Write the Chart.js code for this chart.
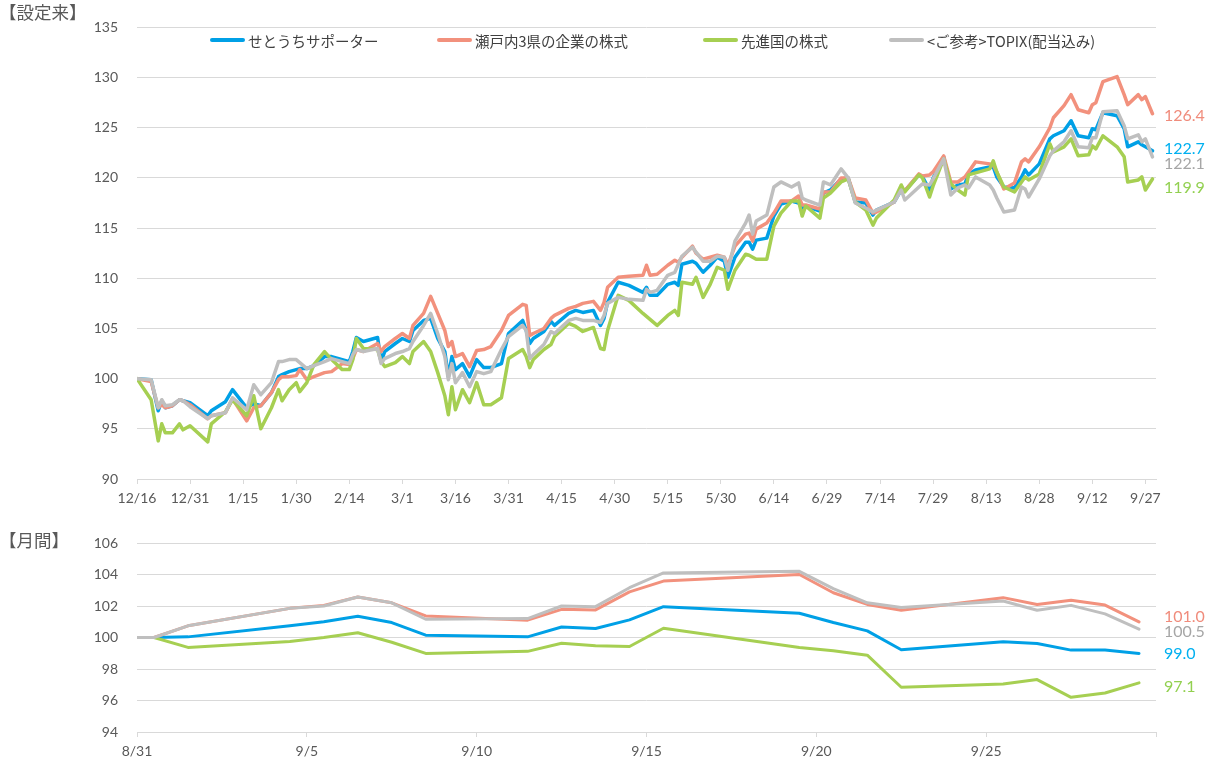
<!DOCTYPE html>
<html><head><meta charset="utf-8">
<script src="https://cdn.jsdelivr.net/npm/chart.js@4.4.1/dist/chart.umd.min.js"></script>
<style>
html,body{margin:0;padding:0;background:#fff;width:1206px;height:760px;overflow:hidden;}
#wrap{position:relative;width:1206px;height:760px;font-family:"Noto Sans CJK JP",sans-serif;color:#595959;}
canvas{position:absolute;left:0;}
#c1{top:0;} #c2{top:510px;}
.ttl{position:absolute;left:-1px;font-size:17.5px;line-height:20px;color:#595959;}
.leg{position:absolute;top:31px;height:18px;display:flex;align-items:center;font-size:14.5px;color:#404040;white-space:nowrap;}
.leg i{display:inline-block;width:35px;height:4px;border-radius:2px;margin-right:3px;}
</style></head><body>
<div id="wrap">
<canvas id="c1" width="1206" height="515"></canvas>
<canvas id="c2" width="1206" height="250"></canvas>
<div class="ttl" style="top:2px">【設定来】</div>
<div class="ttl" style="top:530px">【月間】</div>
<div id="legend"></div>
</div>
<script>
// ---------- DATA ----------
const seriesNames = ["せとうちサポーター","瀬戸内3県の企業の株式","先進国の株式","<ご参考>TOPIX(配当込み)"];

const topDates = ["12/16","12/20","12/22","12/23","12/24","12/26","12/28","12/29","12/31",
"1/5","1/6","1/10","1/12","1/16","1/18","1/20","1/23","1/25","1/26","1/28","1/30","1/31",
"2/2","2/4","2/7","2/9","2/12","2/14","2/15","2/16","2/18","2/22","2/23","2/24","2/27",
"3/1","3/3","3/4","3/7","3/9","3/11","3/13","3/14","3/15","3/16","3/18","3/20","3/22","3/24","3/26","3/29","3/31",
"4/4","4/5","4/6","4/7","4/10","4/12","4/13","4/17","4/19","4/21","4/24","4/26","4/27","4/28",
"5/1","5/4","5/8","5/9","5/10","5/12","5/15","5/17","5/18","5/19","5/22","5/23","5/25","5/27","5/29","5/31",
"6/1","6/3","6/6","6/7","6/8","6/9","6/12","6/14","6/16","6/19","6/21","6/22","6/23","6/27","6/28","6/30",
"7/3","7/5","7/7","7/10","7/12","7/13","7/18","7/20","7/21","7/25","7/26","7/28","7/29",
"8/1","8/3","8/5","8/7","8/8","8/10","8/14","8/15","8/16","8/18","8/21","8/23","8/24","8/25","8/28","8/31",
"9/1","9/4","9/6","9/8","9/11","9/12","9/13","9/15","9/19","9/21","9/22","9/25","9/26","9/27","9/29"];

const topSetouchi = [100,99.9,96.8,97.8,97.1,97.3,97.9,97.8,97.6,
96.3,96.8,97.7,98.9,97.1,97.5,97.3,98.6,100.2,100.4,100.7,100.9,101.0,
101.0,101.3,102.2,102.2,101.9,101.7,102.7,104.1,103.7,104.1,101.7,102.7,103.5,
104.0,103.7,104.8,105.8,106.0,104.0,102.7,100.2,102.2,100.9,101.5,100.2,101.9,101.1,101.1,101.5,104.5,
105.8,104.8,103.5,104.0,104.7,105.7,105.3,106.5,106.8,106.6,106.8,105.3,106.0,107.6,
109.6,109.3,108.6,109.1,108.3,108.3,109.4,109.6,109.3,111.4,111.7,111.5,110.6,111.3,112.1,111.7,
110.1,112.1,113.6,113.6,112.9,113.8,114.0,116.2,117.4,117.7,117.5,117.0,117.2,116.7,118.5,118.8,
119.9,120.0,117.6,117.5,116.3,116.8,117.6,118.8,118.7,120.3,120.1,118.8,120.0,
122.1,118.9,119.3,119.4,120.4,120.8,121.1,121.1,120.1,119.1,119.0,120.1,120.8,120.3,121.4,123.9,
124.2,124.7,125.7,124.2,124.0,124.9,124.8,126.5,126.2,124.9,123.1,123.6,123.3,123.1,122.7];

const topSetouchi3 = [100,99.7,97.1,97.4,97.1,97.3,97.9,97.8,97.4,
96.0,96.3,96.6,98.0,95.8,97.1,97.3,98.6,99.9,100.2,100.2,100.3,100.9,
99.9,100.2,100.6,100.7,101.5,101.4,102.0,102.9,102.7,103.5,102.7,103.2,104.0,
104.5,104.0,105.3,106.5,108.2,106.5,104.8,103.2,103.7,102.2,102.5,101.2,102.8,102.9,103.2,104.8,106.3,
107.4,107.3,104.3,104.5,105.0,106.0,106.3,107.0,107.2,107.5,107.7,106.8,107.6,109.1,
110.1,110.2,110.3,111.3,110.3,110.4,111.3,111.8,111.6,112.1,113.2,112.5,111.9,112.1,112.3,112.1,
111.3,113.2,114.4,114.5,113.7,114.9,115.5,116.5,117.7,117.7,118.2,117.3,117.3,116.9,118.6,118.6,
120.0,120.0,118.0,117.8,116.5,116.6,117.6,119.0,118.7,120.4,120.2,120.3,120.6,
122.2,119.6,119.6,120.1,120.6,121.6,121.4,121.3,120.6,118.9,119.5,121.6,121.9,121.6,123.1,125.0,
126.0,127.2,128.3,126.8,126.5,127.3,127.5,129.6,130.1,128.3,127.3,128.3,127.8,128.1,126.4];

const topDeveloped = [100,97.9,93.8,95.5,94.6,94.6,95.5,94.9,95.3,
93.7,95.5,96.7,97.9,96.3,98.3,95.0,97.1,98.9,97.8,98.9,99.6,98.7,
99.6,101.4,102.7,101.9,100.9,100.9,101.9,104.0,103.0,102.9,101.7,101.2,101.6,
102.2,101.5,102.7,103.7,102.7,100.6,98.3,96.4,99.2,96.9,98.9,97.6,99.6,97.4,97.4,98.1,102.0,
102.9,102.2,101.1,101.9,102.9,103.4,104.2,105.5,105.2,104.7,105.1,103.0,102.9,104.8,
108.3,107.8,106.5,106.2,105.9,105.3,106.3,106.8,106.3,109.6,109.4,110.1,108.1,109.4,111.1,110.8,
108.9,110.8,112.4,112.3,112.1,111.9,111.9,115.2,116.5,117.7,117.7,116.2,117.2,116.0,118.0,118.5,
119.6,119.9,117.6,116.8,115.3,116.0,117.8,119.3,118.6,120.3,120.0,118.1,119.2,
121.9,119.4,118.8,118.3,120.3,120.5,120.9,121.7,120.6,119.1,118.6,119.6,120.1,119.8,120.4,123.4,
122.6,123.1,123.9,122.2,122.3,123.2,122.9,124.2,123.1,122.1,119.6,119.8,120.1,118.8,119.9];

const topTopix = [100,99.9,97.1,97.9,97.3,97.4,97.9,97.8,97.2,
96.0,96.3,96.6,98.1,96.9,99.4,98.4,99.6,101.7,101.7,101.9,101.9,101.6,
101.0,101.3,101.7,102.0,101.7,101.5,102.4,102.9,102.7,103.0,101.5,102.0,102.5,
102.7,103.0,103.7,105.3,106.5,104.5,102.2,99.9,101.5,99.6,100.6,99.2,100.7,100.5,100.7,102.9,104.2,
105.3,104.8,102.0,102.4,103.4,104.7,104.5,105.8,106.0,105.8,105.8,105.6,106.3,107.5,
108.1,107.9,107.8,108.9,108.6,108.8,110.3,110.6,111.4,112.2,113.1,112.6,111.7,111.7,112.2,112.1,
110.8,113.7,115.5,116.3,114.4,115.7,116.3,119.1,119.6,119.1,119.5,118.0,117.8,117.3,119.6,119.3,
120.9,120.0,117.5,117.0,116.6,116.8,117.6,118.8,117.8,119.1,119.4,119.3,119.9,
121.9,118.3,119.0,119.3,119.0,120.1,119.3,118.8,118.0,116.6,116.8,119.1,118.9,118.1,119.9,122.2,
122.7,123.6,124.7,123.1,123.0,124.0,124.0,126.6,126.7,125.2,123.9,124.3,123.6,123.9,122.1];

const topTickLabels = ["12/16","12/31","1/15","1/30","2/14","3/1","3/16","3/31","4/15","4/30","5/15","5/30","6/14","6/29","7/14","7/29","8/13","8/28","9/12","9/27"];
const topRange = ["12/16","9/30"];

const monthDates = ["8/30","8/31","9/1","9/4","9/5","9/6","9/7","9/8","9/11","9/12","9/13","9/14","9/15","9/19","9/20","9/21","9/22","9/25","9/26","9/27","9/28","9/29"];
const monthSetouchi  = [100,100,100.04,100.74,101.0,101.35,100.95,100.15,100.04,100.67,100.57,101.12,101.96,101.54,100.95,100.42,99.22,99.73,99.62,99.2,99.2,98.99];
const monthSetouchi3 = [100,100,100.74,101.85,102.04,102.57,102.2,101.37,101.1,101.79,101.75,102.9,103.58,104.0,102.84,102.1,101.73,102.53,102.1,102.36,102.06,100.99];
const monthDeveloped = [100,100,99.37,99.75,100.0,100.3,99.7,98.99,99.12,99.64,99.47,99.43,100.59,99.37,99.16,98.88,96.84,97.05,97.33,96.2,96.48,97.12];
const monthTopix     = [100,100,100.74,101.85,102.0,102.57,102.2,101.16,101.2,102.0,101.96,103.16,104.1,104.2,103.1,102.2,101.9,102.32,101.73,102.04,101.5,100.53];
const monthTickLabels = ["8/31","9/5","9/10","9/15","9/20","9/25"];
const monthRange = ["8/31","9/30"];

// ---------- STYLE ----------
const COLORS = ['#00A0E6','#F2917D','#A6CF52','#BFBFBF'];
const LABEL_COLORS = ['#00B0F0','#F08C7C','#92D050','#A6A6A6'];
const DRAW_ORDER = [3,2,1,0];
const GRID = '#D9D9D9';
const LEGEND_LEFT = [210, 437, 703, 889];

Chart.defaults.font.family = 'Lato, "Noto Sans CJK JP", sans-serif';
Chart.defaults.font.size = 14;
Chart.defaults.color = '#595959';

function dayNum(md){
  const [m,d] = md.split('/').map(Number);
  return Date.UTC(m === 12 ? 2022 : 2023, m-1, d) / 864e5;
}

const endLabels = {
  id:'endLabels',
  afterDatasetsDraw(chart, args, o){
    const ctx = chart.ctx;
    ctx.save();
    ctx.font = '16px Lato, sans-serif';
    ctx.textBaseline = 'middle';
    ctx.textAlign = 'left';
    chart.data.datasets.forEach((ds,i)=>{
      const meta = chart.getDatasetMeta(i);
      const pt = meta.data[meta.data.length-1];
      const v = ds.data[ds.data.length-1].y;
      ctx.fillStyle = LABEL_COLORS[i];
      ctx.fillText(v.toFixed(1), chart.chartArea.right + 8, pt.y + o.dy[i]);
    });
    ctx.restore();
  }
};

function makeChart(id, cfg){
  const base = dayNum(cfg.range[0]);
  const xs = cfg.dates.map(d => dayNum(d) - base + cfg.shift);
  const tickVals = cfg.ticks.map(t => dayNum(t) - base);
  if (cfg.endTick) tickVals.push(dayNum(cfg.range[1]) - base);
  return new Chart(document.getElementById(id), {
    type:'line',
    data:{ datasets: cfg.series.map((s,i)=>({
      label: seriesNames[i],
      data: s.map((v,j)=>({x:xs[j], y:v})),
      borderColor: COLORS[i], backgroundColor: COLORS[i],
      borderWidth: cfg.lw, pointRadius:0, tension:0, order: DRAW_ORDER[i],
      borderJoinStyle:'round', borderCapStyle:'round'
    }))},
    options:{
      responsive:false, animation:false, devicePixelRatio:1,
      layout:{padding:{left:0,right:50,top:cfg.padTop,bottom:cfg.padBottom}},
      plugins:{legend:{display:false}, tooltip:{enabled:false}, endLabels:{dy:cfg.dy}},
      scales:{
        x:{ type:'linear', min:0, max: dayNum(cfg.range[1]) - base,
          afterBuildTicks: sc => { sc.ticks = tickVals.map(v=>({value:v})); },
          afterFit: sc => { sc.height = cfg.xH; },
          ticks:{ autoSkip:false, maxRotation:0, padding:6,
            callback:(v,i)=> cfg.ticks[i] !== undefined ? cfg.ticks[i] : '' },
          grid:{ drawOnChartArea:false, drawTicks:true, tickLength:5, color:GRID, lineWidth:1 },
          border:{ display:true, color:GRID, width:1 }
        },
        y:{ min:cfg.yMin, max:cfg.yMax,
          afterFit: sc => { sc.width = 137; },
          ticks:{ stepSize:cfg.yStep, padding:19 },
          grid:{ color:GRID, lineWidth:1, drawTicks:false },
          border:{ display:false }
        }
      }
    },
    plugins:[endLabels]
  });
}

makeChart('c1', {
  dates: topDates, series:[topSetouchi, topSetouchi3, topDeveloped, topTopix],
  ticks: topTickLabels, range: topRange, shift: 0, endTick:false,
  yMin:90, yMax:135, yStep:5, lw:3.5, padTop:24, padBottom:5, xH:31,
  dy:[-2, 2, 9, 7]
});
makeChart('c2', {
  dates: monthDates, series:[monthSetouchi, monthSetouchi3, monthDeveloped, monthTopix],
  ticks: monthTickLabels, range: monthRange, shift: 0.5, endTick:true,
  yMin:94, yMax:106, yStep:2, lw:3, padTop:33, padBottom:0, xH:28,
  dy:[0.5, -5.5, 3.5, 3]
});

// legend (HTML)
const leg = document.getElementById('legend');
seriesNames.forEach((n,i)=>{
  const d = document.createElement('div');
  d.className = 'leg';
  d.style.left = LEGEND_LEFT[i] + 'px';
  const sw = document.createElement('i');
  sw.style.background = COLORS[i];
  d.appendChild(sw);
  d.appendChild(document.createTextNode(n));
  leg.appendChild(d);
});
</script>
</body></html>
